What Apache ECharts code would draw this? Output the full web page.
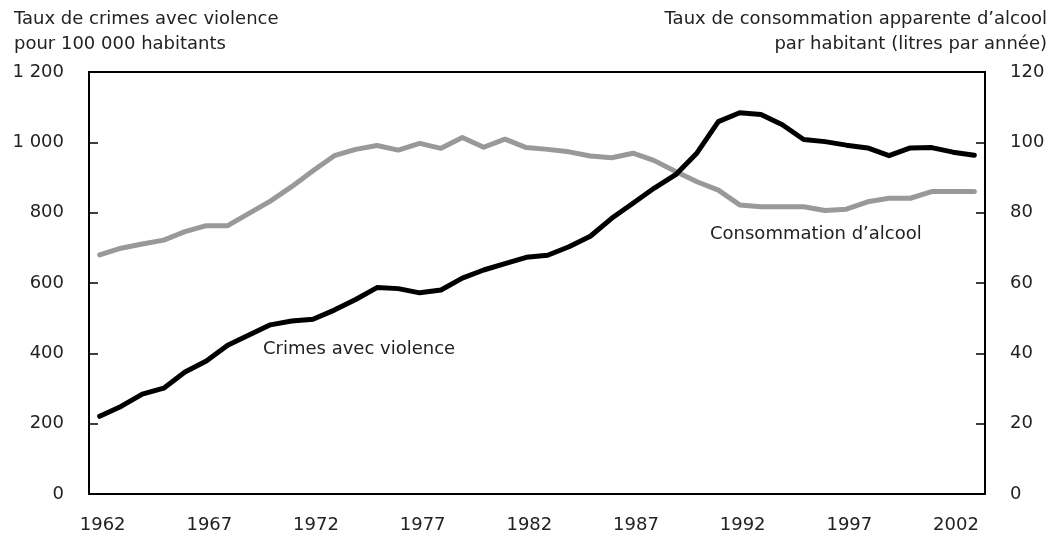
<!DOCTYPE html>
<html>
<head>
<meta charset="utf-8">
<script src="https://cdn.jsdelivr.net/npm/echarts@6/dist/echarts.min.js"></script>
<style>
  html, body { margin: 0; padding: 0; background: #fff; }
  #main { width: 1062px; height: 540px; }
</style>
</head>
<body>
<div id="main"></div>
<script>
// années 1962 - 2003
var years = [];
for (var y = 1962; y <= 2003; y++) { years.push(String(y)); }

// crimes avec violence pour 100 000 habitants
var crimes = [221, 249, 284, 301, 347, 378, 423, 452, 481, 492,
              497, 523, 553, 587, 584, 572, 580, 614, 637, 655,
              673, 679, 703, 733, 784, 827, 870, 908, 970, 1059,
              1084, 1079, 1050, 1008, 1002, 992, 984, 962, 984, 985,
              972, 963];

// consommation apparente d'alcool (litres par habitant)
var alcool = [68.0, 69.9, 71.1, 72.2, 74.6, 76.3, 76.3, 79.8, 83.3, 87.4,
              91.9, 96.2, 98.0, 99.1, 97.8, 99.7, 98.3, 101.4, 98.6, 100.9,
              98.5, 98.0, 97.3, 96.1, 95.6, 96.9, 94.8, 91.7, 88.8, 86.4,
              82.2, 81.7, 81.7, 81.7, 80.6, 81.0, 83.1, 84.1, 84.1, 86.0,
              86.0, 86.0];

var leftTitle = 'Taux de crimes avec violence\npour 100 000 habitants';
var rightTitle1 = 'Taux de consommation apparente d\u2019alcool';
var rightTitle2 = 'par habitant (litres par année)';

var FONT = '"DejaVu Sans", sans-serif';
var FS = 18;
var TXT = '#222';

function fmt(v) {
  // espace comme séparateur de milliers
  return String(v).replace(/\B(?=(\d{3})+(?!\d))/g, ' ');
}

function crimeChart(element) {
  var obj = new Object;
  obj.myChart = echarts.init(document.getElementById(element));
  obj._init = function () {
    obj.option = {
      animation: false,
      textStyle: { fontFamily: FONT },
      grid: {
        left: 89, right: 77, top: 72, bottom: 46,
        show: true, borderColor: '#000', borderWidth: 2
      },
      xAxis: {
        type: 'category',
        data: years,
        boundaryGap: true,
        axisLine: { lineStyle: { color: '#000', width: 2 } },
        axisTick: { inside: true, length: 7, interval: 0, lineStyle: { color: '#000', width: 1.5 } },
        axisLabel: { interval: 4, color: TXT, fontSize: FS, margin: 22, fontFamily: FONT, padding: [0, 0, 0, 6] },
        splitLine: { show: false }
      },
      yAxis: [{
        type: 'value',
        min: 0, max: 1200, interval: 200,
        axisLine: { show: true, lineStyle: { color: '#000', width: 2 } },
        axisTick: { show: true, inside: true, length: 9, lineStyle: { color: '#000', width: 1.5 } },
        axisLabel: { color: TXT, fontSize: FS, margin: 25, fontFamily: FONT, formatter: fmt },
        splitLine: { show: false }
      }, {
        type: 'value',
        min: 0, max: 120, interval: 20,
        position: 'right',
        axisLine: { show: true, lineStyle: { color: '#000', width: 2 } },
        axisTick: { show: true, inside: true, length: 9, lineStyle: { color: '#000', width: 1.5 } },
        axisLabel: { color: TXT, fontSize: FS, margin: 25, fontFamily: FONT },
        splitLine: { show: false }
      }],
      series: [{
        name: 'Consommation d\u2019alcool',
        type: 'line',
        yAxisIndex: 1,
        data: alcool,
        showSymbol: false,
        lineStyle: { color: '#999', width: 5, cap: 'round', join: 'round' },
        z: 2
      }, {
        name: 'Crimes avec violence',
        type: 'line',
        yAxisIndex: 0,
        data: crimes,
        showSymbol: false,
        lineStyle: { color: '#000', width: 5, cap: 'round', join: 'round' },
        z: 3
      }],
      graphic: [
        { type: 'text', left: 14, top: 7,
          style: { text: leftTitle, fill: TXT, font: FS + 'px ' + FONT, lineHeight: 25 } },
        { type: 'text', right: 15, top: 7,
          style: { text: rightTitle1, fill: TXT, font: FS + 'px ' + FONT, lineHeight: 25 } },
        { type: 'text', right: 15, top: 32,
          style: { text: rightTitle2, fill: TXT, font: FS + 'px ' + FONT, lineHeight: 25 } },
        { type: 'text', left: 263, top: 340,
          style: { text: 'Crimes avec violence', fill: TXT, font: FS + 'px ' + FONT } },
        { type: 'text', left: 710, top: 225,
          style: { text: 'Consommation d\u2019alcool', fill: TXT, font: FS + 'px ' + FONT } }
      ]
    };
    obj.myChart.setOption(obj.option);
  };
  obj._init();
  return obj;
}

crimeChart('main');
</script>
</body>
</html>
